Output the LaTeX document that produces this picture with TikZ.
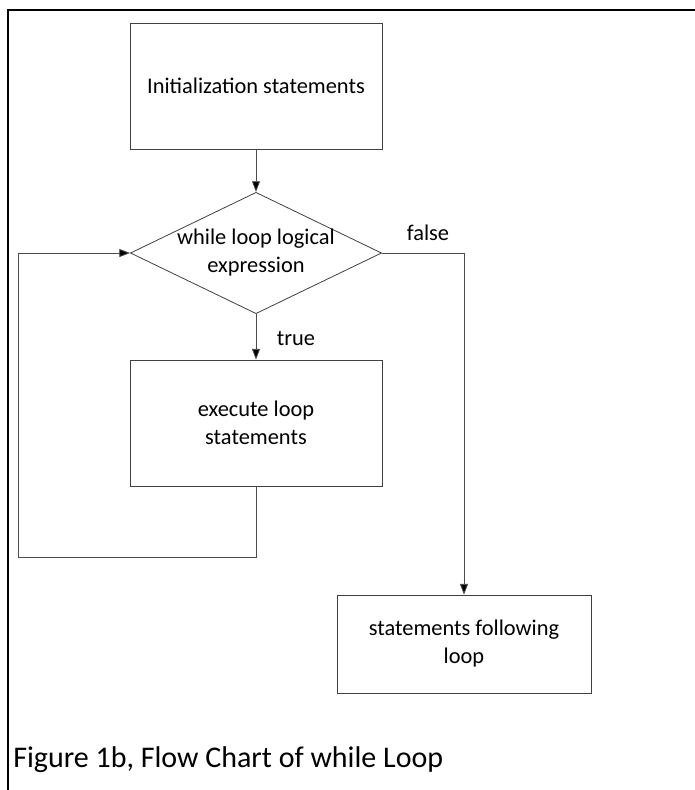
\documentclass[tikz,border=0pt]{standalone}
\usepackage{fontspec}
\setmainfont{Carlito}
\usepackage{tikz}
\usetikzlibrary{arrows.meta,positioning,shapes.geometric}
\tikzset{
  box/.style={draw=black!75, line width=0.6pt, align=center, minimum width=189pt, minimum height=94.5pt, inner sep=2pt, font=\fontsize{16.8}{21}\selectfont},
  dec/.style={box, diamond, aspect=2.07, minimum width=0pt, minimum height=0pt, inner sep=-0.5pt},
  arr/.style={-{Triangle[length=8pt,width=6pt,fill=black]}, draw=black!70, line width=0.6pt},
  lbl/.style={font=\fontsize{16.8}{21}\selectfont, inner sep=0pt},
  frame/.style={line width=1.2pt, black}}

\begin{document}
\begin{tikzpicture}[x=0.75pt, y=-0.75pt]
  \useasboundingbox (0,0) rectangle (695,790);
  % page frame: top and left only
  \coordinate (ftl) at (8,10);
  \coordinate (ftr) at (695,10);
  \coordinate (fbl) at (8,790);
  \draw[frame] (ftr) -- (ftl) -- (fbl);
  % flow chart
  \node[box] (init) at (256,86) {Initialization statements};
  \node[dec] (cond) at (256,253) {while loop logical\\expression};
  \node[box] (body) at (256,423) {execute loop\\statements};
  \node[box, minimum width=190.5pt, minimum height=73.5pt] (post) at (464,644) {statements following\\loop};
  \node[lbl] (tlab) at (296,338) {true};
  \node[lbl] (flab) at (428,233) {false};
  \coordinate (back) at (18,557);
  \draw[arr] (init) -- (cond);
  \draw[arr] (cond) -- (body);
  \draw[arr] (cond.east) -| (post.north);
  \draw[arr] (body.south) |- (back) |- (cond.west);
  % caption
  \node[anchor=base west, inner sep=0pt, font=\fontsize{22.5}{27}\selectfont] (cap) at (13,767) {Figure 1b, Flow Chart of while Loop};
\end{tikzpicture}
\end{document}
